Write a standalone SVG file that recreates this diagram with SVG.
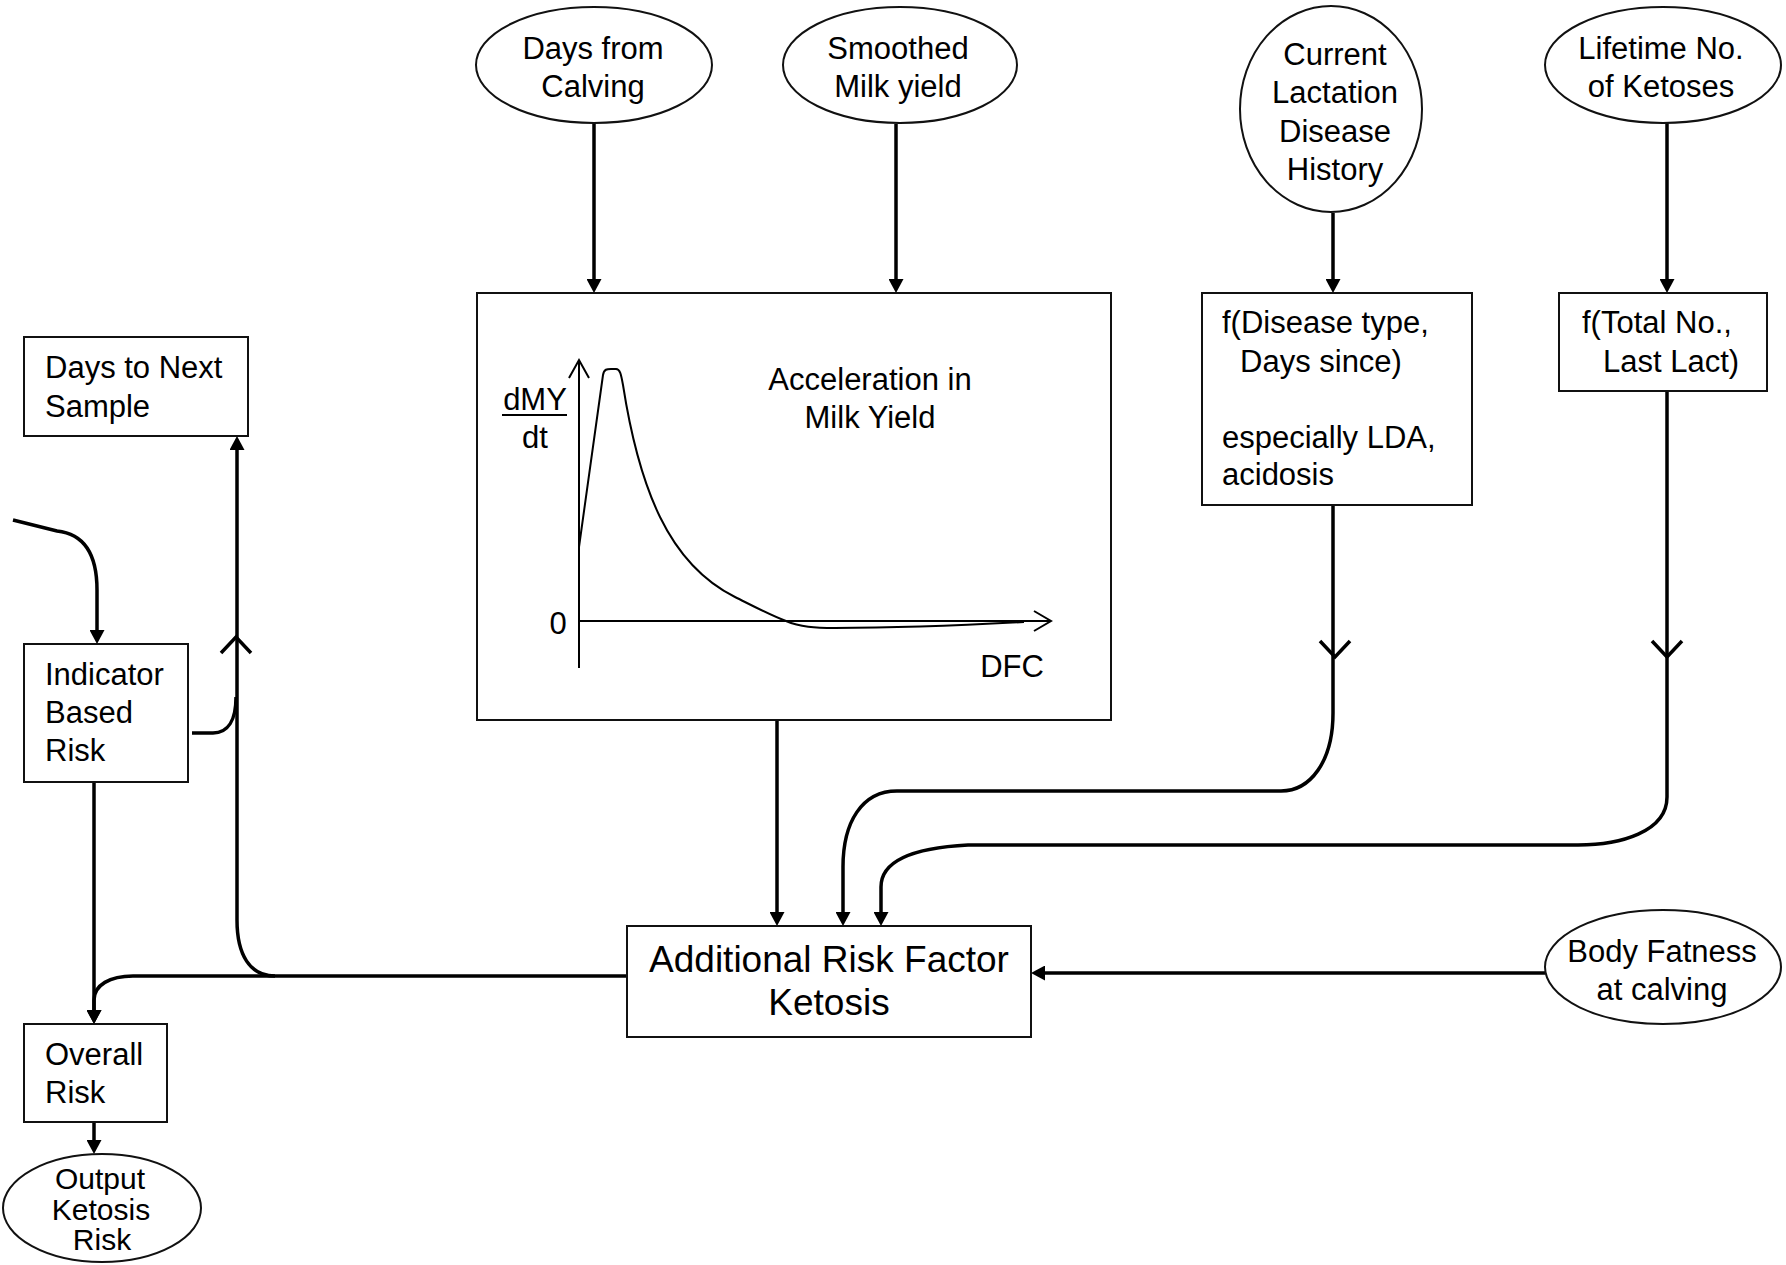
<svg xmlns="http://www.w3.org/2000/svg" width="1786" height="1265" viewBox="0 0 1786 1265">
<style>
.bg{fill:#fff}
.box{fill:#fff;stroke:#111;stroke-width:2}
.ell{fill:#fff;stroke:#111;stroke-width:2}
.t{font-family:"Liberation Sans",Arial,sans-serif;font-size:31px;fill:#000}
.c{text-anchor:middle}
.big{font-size:37px}
.sm{font-size:30px}
.con{fill:none;stroke:#000;stroke-width:3.5}
.thin{fill:none;stroke:#000;stroke-width:2}
</style>
<defs>
<marker id="ah" viewBox="0 0 14 15" markerWidth="14" markerHeight="15" refX="2" refY="7.5" orient="auto" markerUnits="userSpaceOnUse">
<path d="M0,0 L14,7.5 L0,15 z" fill="#000"/>
</marker>
</defs>
<rect class="bg" x="0" y="0" width="1786" height="1265"/>

<g id="connectors">
<path class="con" d="M594,124 V281" marker-end="url(#ah)"/>
<path class="con" d="M896,124 V281" marker-end="url(#ah)"/>
<path class="con" d="M1333,213 V281" marker-end="url(#ah)"/>
<path class="con" d="M1667,123 V281" marker-end="url(#ah)"/>
<path class="con" d="M777,720 V914" marker-end="url(#ah)"/>
<path class="con" d="M1333,506 V713 C1333,762 1310,791 1281,791 H897 C862,791 843,822 843,867 V914" marker-end="url(#ah)"/>
<path class="con" d="M1320,641 L1335,657 L1350,641"/>
<path class="con" d="M1667,391 V797 C1667,832 1620,845 1578,845 H968 C910,848 881,862 881,887 V914" marker-end="url(#ah)"/>
<path class="con" d="M1652,641 L1667,657 L1682,641"/>
<path class="con" d="M1545,973 H1043" marker-end="url(#ah)"/>
<path class="con" d="M627,976 H133 C110,976 94,985 94,1000 V1012" marker-end="url(#ah)"/>
<path class="con" d="M275,976 C250,976 237,955 237,920 V448" marker-end="url(#ah)"/>
<path class="con" d="M221,653 L236,637 L251,653"/>
<path class="con" d="M192,733 H213 C228,733 236,720 236,697"/>
<path class="con" d="M94,782 V1012" marker-end="url(#ah)"/>
<path class="con" d="M94,1122 V1142" marker-end="url(#ah)"/>
<path class="con" d="M13,520 L57,531 C85,534 97,556 97,590 V632" marker-end="url(#ah)"/>
</g>

<g id="days-from-calving">
<ellipse class="ell" cx="594" cy="65" rx="118" ry="58"/>
<text class="t c" x="593" y="59">Days from</text>
<text class="t c" x="593" y="97">Calving</text>
</g>

<g id="smoothed-milk-yield">
<ellipse class="ell" cx="900" cy="65" rx="117" ry="58"/>
<text class="t c" x="898" y="59">Smoothed</text>
<text class="t c" x="898" y="97">Milk yield</text>
</g>

<g id="current-lactation">
<ellipse class="ell" cx="1331" cy="109" rx="91" ry="103"/>
<text class="t c" x="1335" y="65">Current</text>
<text class="t c" x="1335" y="103">Lactation</text>
<text class="t c" x="1335" y="142">Disease</text>
<text class="t c" x="1335" y="180">History</text>
</g>

<g id="lifetime-ketoses">
<ellipse class="ell" cx="1663" cy="65" rx="118" ry="58"/>
<text class="t c" x="1661" y="59">Lifetime No.</text>
<text class="t c" x="1661" y="97">of Ketoses</text>
</g>

<g id="acceleration">
<rect class="box" x="477" y="293" width="634" height="427"/>
<text class="t c" x="870" y="390">Acceleration in</text>
<text class="t c" x="870" y="428">Milk Yield</text>
<text class="t c" x="535" y="410">dMY</text>
<line x1="502" y1="415" x2="567" y2="415" stroke="#000" stroke-width="2"/>
<text class="t c" x="535" y="448">dt</text>
<text class="t c" x="558" y="634">0</text>
<text class="t c" x="1012" y="677">DFC</text>
<path class="thin" d="M579,668 V360 M569,378 L579,360 L589,378"/>
<path class="thin" d="M579,621 H1051 M1034,611 L1051,621 L1034,631"/>
<path class="thin" d="M579,547 L603,375 C604,369 607,369 611,369 L616,369 C620,369 621,374 623,385 C630,430 642,480 660,517 C680,558 705,582 735,597 C755,607 770,615 786,621 C800,627 815,628 835,628 C900,628 970,625 1024,622"/>
</g>

<g id="disease-function">
<rect class="box" x="1202" y="293" width="270" height="212"/>
<text class="t" x="1222" y="333">f(Disease type,</text>
<text class="t" x="1240" y="372">Days since)</text>
<text class="t" x="1222" y="448">especially LDA,</text>
<text class="t" x="1222" y="485">acidosis</text>
</g>

<g id="total-function">
<rect class="box" x="1559" y="293" width="208" height="98"/>
<text class="t" x="1582" y="333">f(Total No.,</text>
<text class="t" x="1603" y="372">Last Lact)</text>
</g>

<g id="days-to-next-sample">
<rect class="box" x="24" y="337" width="224" height="99"/>
<text class="t" x="45" y="378">Days to Next</text>
<text class="t" x="45" y="417">Sample</text>
</g>

<g id="indicator-risk">
<rect class="box" x="24" y="644" width="164" height="138"/>
<text class="t" x="45" y="685">Indicator</text>
<text class="t" x="45" y="723">Based</text>
<text class="t" x="45" y="761">Risk</text>
</g>

<g id="additional-risk">
<rect class="box" x="627" y="926" width="404" height="111"/>
<text class="t c big" x="829" y="972">Additional Risk Factor</text>
<text class="t c big" x="829" y="1015">Ketosis</text>
</g>

<g id="body-fatness">
<ellipse class="ell" cx="1663" cy="967" rx="118" ry="57"/>
<text class="t c" x="1662" y="962">Body Fatness</text>
<text class="t c" x="1662" y="1000">at calving</text>
</g>

<g id="overall-risk">
<rect class="box" x="24" y="1024" width="143" height="98"/>
<text class="t" x="45" y="1065">Overall</text>
<text class="t" x="45" y="1103">Risk</text>
</g>

<g id="output-ketosis-risk">
<ellipse class="ell" cx="102" cy="1208" rx="99" ry="54"/>
<text class="t c sm" x="100" y="1189">Output</text>
<text class="t c sm" x="101" y="1220">Ketosis</text>
<text class="t c sm" x="102" y="1250">Risk</text>
</g>
</svg>
